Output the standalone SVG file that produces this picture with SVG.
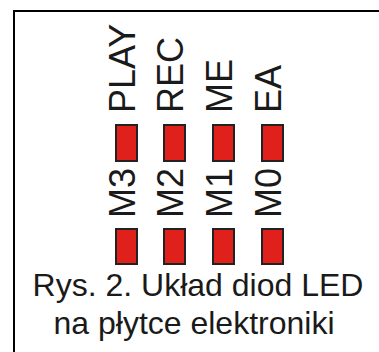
<svg xmlns="http://www.w3.org/2000/svg" width="379" height="352" viewBox="0 0 379 352">
<style>
.lbl{font-family:"Liberation Sans",Arial,sans-serif;font-size:36px;fill:#1a1a1a}
.cap{font-family:"Liberation Sans",Arial,sans-serif;font-size:32px;fill:#1a1a1a;text-anchor:middle}
.led{fill:#e0201b;stroke:#222;stroke-width:2}
</style>
<rect width="379" height="352" fill="#fff"/>
<g id="frame" fill="none" stroke="#000" stroke-width="2">
<path d="M14 352V11H379"/>
</g>
<g id="col-M3">
<text class="lbl" transform="translate(135,113) rotate(-90)">PLAY</text>
<rect class="led" x="116" y="125" width="21" height="36"/>
<text class="lbl" transform="translate(135,218) rotate(-90)">M3</text>
<rect class="led" x="116" y="229" width="21" height="35"/>
</g>
<g id="col-M2">
<text class="lbl" transform="translate(183,113) rotate(-90)">REC</text>
<rect class="led" x="164" y="125" width="21" height="36"/>
<text class="lbl" transform="translate(183,218) rotate(-90)">M2</text>
<rect class="led" x="164" y="229" width="21" height="35"/>
</g>
<g id="col-M1">
<text class="lbl" transform="translate(232,113) rotate(-90)">ME</text>
<rect class="led" x="213" y="125" width="21" height="36"/>
<text class="lbl" transform="translate(232,218) rotate(-90)">M1</text>
<rect class="led" x="213" y="229" width="21" height="35"/>
</g>
<g id="col-M0">
<text class="lbl" transform="translate(281,113) rotate(-90)">EA</text>
<rect class="led" x="262" y="125" width="21" height="36"/>
<text class="lbl" transform="translate(281,218) rotate(-90)">M0</text>
<rect class="led" x="262" y="229" width="21" height="35"/>
</g>
<g id="caption">
<text class="cap" x="198" y="296">Rys. 2. Układ diod LED</text>
<text class="cap" x="194" y="334">na płytce elektroniki</text>
</g>
<g id="connectors"/>
</svg>
